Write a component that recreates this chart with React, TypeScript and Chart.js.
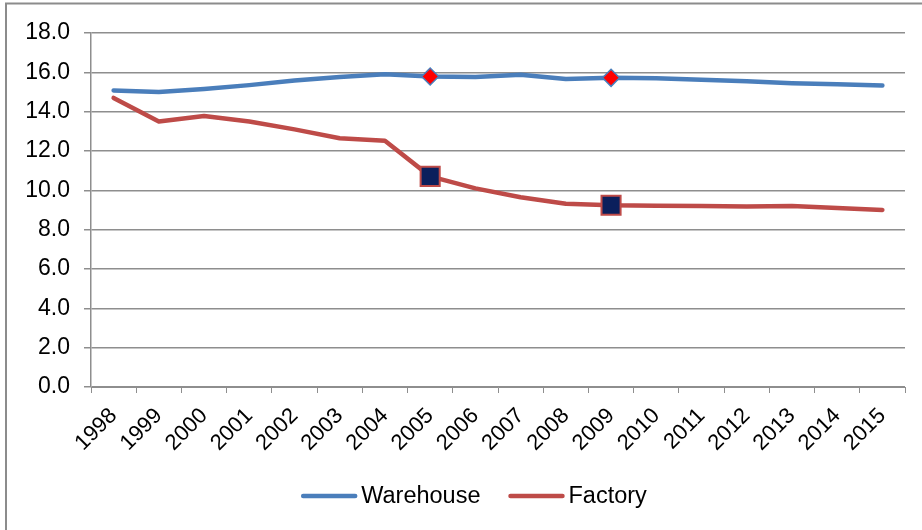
import React, { useEffect, useRef } from "react";
import { Chart, registerables } from "chart.js";

Chart.register(...registerables);

const years = ["1998","1999","2000","2001","2002","2003","2004","2005","2006","2007","2008","2009","2010","2011","2012","2013","2014","2015"];
const warehouse = [15.08, 15.0, 15.15, 15.35, 15.58, 15.76, 15.9, 15.79, 15.76, 15.88, 15.66, 15.72, 15.7, 15.62, 15.55, 15.45, 15.4, 15.33];
const factory = [14.7, 13.5, 13.78, 13.5, 13.1, 12.65, 12.52, 10.71, 10.1, 9.65, 9.32, 9.24, 9.22, 9.2, 9.18, 9.2, 9.1, 9.0];
const markedYears = ["2005", "2009"];
const yTicksMin = 0;
const yTicksMax = 18;
const yTickStep = 2;

const BLUE = "#4A7EBB";
const RED = "#BE4B48";
const GRID = "#8e8e8e";
const FONT = "'Liberation Sans', Arial, sans-serif";

const frame = {
  id: "frame",
  beforeDraw(chart: any) {
    const { ctx, width, height } = chart;
    ctx.save();
    ctx.fillStyle = "#ffffff";
    ctx.fillRect(0, 0, width, height);
    ctx.strokeStyle = "#8c8c8c";
    ctx.lineWidth = 2;
    ctx.beginPath();
    ctx.moveTo(6, height);
    ctx.lineTo(6, 3.5);
    ctx.lineTo(width, 3.5);
    ctx.stroke();
    ctx.restore();
  },
};

const lineLegend = {
  id: "lineLegend",
  afterDraw(chart: any) {
    const { ctx } = chart;
    const lineLen = 56;
    const gap = 4;
    const spacing = 28;
    const cx = 474;
    const cy = 496;
    ctx.save();
    ctx.font = `23.5px ${FONT}`;
    ctx.textBaseline = "middle";
    ctx.textAlign = "left";
    const items = chart.data.datasets.map((ds: any) => ({
      text: ds.label,
      color: ds.borderColor,
      w: ctx.measureText(ds.label).width,
    }));
    const total = items.reduce((a: number, it: any) => a + lineLen + gap + it.w, 0) + spacing * (items.length - 1);
    let x = cx - total / 2;
    for (const it of items) {
      ctx.strokeStyle = it.color;
      ctx.lineWidth = 4.5;
      ctx.lineCap = "round";
      ctx.beginPath();
      ctx.moveTo(x + 2, cy);
      ctx.lineTo(x + lineLen - 2, cy);
      ctx.stroke();
      ctx.fillStyle = "#000";
      ctx.fillText(it.text, x + lineLen + gap, cy + 1);
      x += lineLen + gap + it.w + spacing;
    }
    ctx.restore();
  },
};

export default function App() {
  const ref = useRef<HTMLCanvasElement>(null);
  useEffect(() => {
    document.body.style.margin = "0";
    const isMarked = (i: number) => markedYears.includes(years[i]);
    const chart = new Chart(ref.current!, {
      type: "line",
      data: {
        labels: years,
        datasets: [
          {
            label: "Warehouse",
            data: warehouse,
            borderColor: BLUE,
            borderWidth: 4.5,
            borderCapStyle: "round",
            borderJoinStyle: "round",
            tension: 0,
            pointStyle: "rectRot",
            pointRadius: (c: any) => (isMarked(c.dataIndex) ? 8.5 : 0),
            pointBackgroundColor: "#FF0000",
            pointBorderColor: BLUE,
            pointBorderWidth: 1.5,
            pointHoverRadius: 0,
          },
          {
            label: "Factory",
            data: factory,
            borderColor: RED,
            borderWidth: 4.5,
            borderCapStyle: "round",
            borderJoinStyle: "round",
            tension: 0,
            pointStyle: "rect",
            pointRadius: (c: any) => (isMarked(c.dataIndex) ? 13.5 : 0),
            pointBackgroundColor: "#0B1F5C",
            pointBorderColor: RED,
            pointBorderWidth: 2,
            pointHoverRadius: 0,
          },
        ],
      },
      options: {
        animation: false,
        responsive: false,
        maintainAspectRatio: false,
        layout: { padding: { top: 33, right: 17, bottom: 0, left: 0 } },
        plugins: {
          tooltip: { enabled: false },
          legend: { display: false },
        },
        scales: {
          x: {
            offset: true,
            afterFit: (s: any) => { s.height = 143; },
            grid: {
              offset: true,
              drawOnChartArea: false,
              drawTicks: true,
              tickLength: 6,
              color: GRID,
              lineWidth: 1,
            },
            border: { display: true, color: GRID, width: 1 },
            ticks: {
              minRotation: 45,
              maxRotation: 45,
              autoSkip: false,
              padding: 10,
              color: "#000",
              font: { family: FONT, size: 22 },
            },
          },
          y: {
            min: yTicksMin,
            max: yTicksMax,
            afterFit: (s: any) => { s.width = 91; },
            grid: { color: GRID, lineWidth: 1.5, tickLength: 7, drawTicks: true },
            border: { display: true, color: GRID, width: 1.5 },
            ticks: {
              stepSize: yTickStep,
              padding: 14,
              color: "#000",
              font: { family: FONT, size: 23 },
              callback: (v: any) => Number(v).toFixed(1),
            },
          },
        },
      },
      plugins: [frame, lineLegend],
    } as any);
    return () => chart.destroy();
  }, []);
  return (
    <div style={{ width: 922, height: 530 }}>
      <canvas ref={ref} width={922} height={530} style={{ display: "block" }} />
    </div>
  );
}
